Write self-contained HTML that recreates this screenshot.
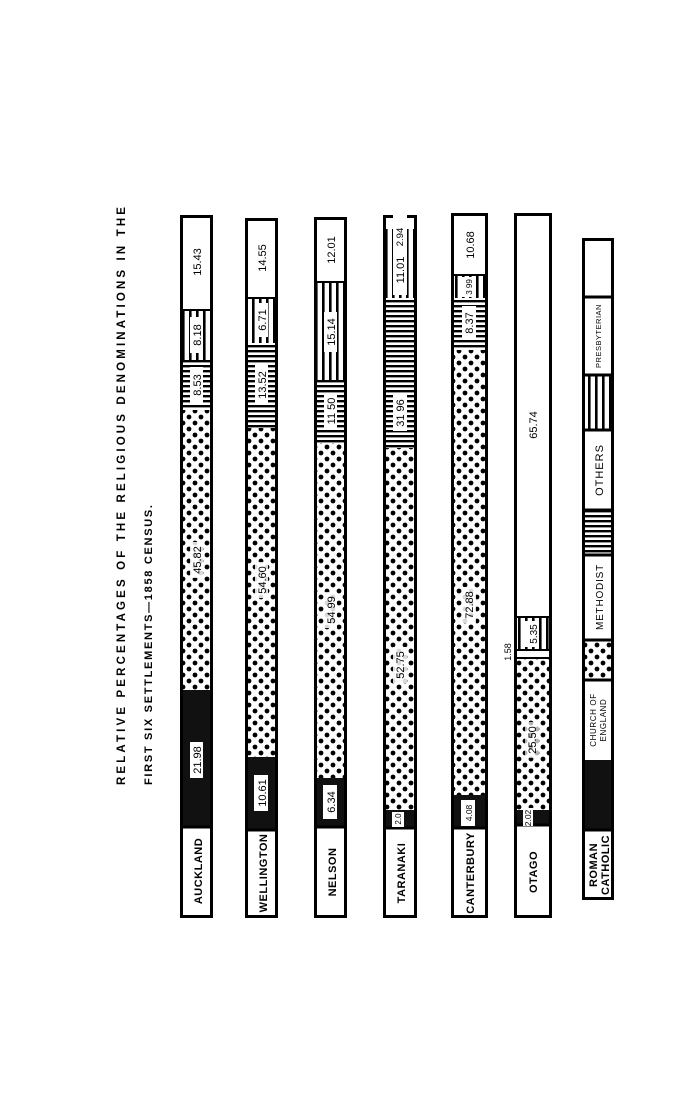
<!DOCTYPE html>
<html><head><meta charset="utf-8"><style>
html,body{margin:0;padding:0;background:#fff;}
svg{display:block;}
text{font-family:"Liberation Sans",sans-serif;fill:#000;}
</style></head><body>
<svg width="700" height="1110" viewBox="0 0 700 1110" xmlns="http://www.w3.org/2000/svg">
<defs>
<pattern id="dots" patternUnits="userSpaceOnUse" width="12" height="12">
<rect width="12" height="12" fill="#fff"/>
<circle cx="3" cy="3" r="2.4" fill="#000"/>
<circle cx="9" cy="9" r="2.4" fill="#000"/>
</pattern>
<pattern id="hl" patternUnits="userSpaceOnUse" width="5" height="5">
<rect width="5" height="5" fill="#fff"/>
<rect y="0" width="5" height="2.4" fill="#000"/>
</pattern>
<pattern id="vl" patternUnits="userSpaceOnUse" width="7" height="7">
<rect width="7" height="7" fill="#fff"/>
<rect x="0" width="2.6" height="7" fill="#000"/>
</pattern>
</defs>

<!-- Title -->
<text transform="translate(125,785) rotate(-90)" font-size="11.5" font-weight="bold" textLength="578" lengthAdjust="spacing">RELATIVE  PERCENTAGES  OF  THE  RELIGIOUS  DENOMINATIONS  IN  THE</text>
<text transform="translate(152,785) rotate(-90)" font-size="11" font-weight="bold" textLength="280" lengthAdjust="spacing">FIRST SIX SETTLEMENTS—1858 CENSUS.</text>

<!-- AUCKLAND -->
<g>
<rect x="180" y="215" width="33" height="95" fill="#fff"/>
<rect x="180" y="310" width="33" height="50" fill="url(#vl)"/>
<rect x="180" y="360" width="33" height="50" fill="url(#hl)"/>
<rect x="180" y="410" width="33" height="280" fill="url(#dots)"/>
<rect x="180" y="690" width="33" height="137" fill="#111"/>
<rect x="180" y="827" width="33" height="91" fill="#fff"/>
<rect x="181.5" y="216.5" width="30" height="700" fill="none" stroke="#000" stroke-width="3"/>
<line x1="180" y1="310" x2="213" y2="310" stroke="#000" stroke-width="2"/>
<line x1="180" y1="827" x2="213" y2="827" stroke="#000" stroke-width="3"/>
<rect x="190" y="317" width="13" height="36" fill="#fff"/>
<rect x="190" y="367" width="13" height="36" fill="#fff"/>
<rect x="190" y="542" width="13" height="36" fill="#fff" opacity="0.85"/>
<rect x="190" y="742" width="13" height="36" fill="#fff"/>
<text transform="translate(201,262) rotate(-90)" font-size="11" text-anchor="middle">15.43</text>
<text transform="translate(201,335) rotate(-90)" font-size="11" text-anchor="middle">8.18</text>
<text transform="translate(201,385) rotate(-90)" font-size="11" text-anchor="middle">8.53</text>
<text transform="translate(201,560) rotate(-90)" font-size="11" text-anchor="middle">45.82</text>
<text transform="translate(201,760) rotate(-90)" font-size="11" text-anchor="middle">21.98</text>
<text transform="translate(202,871) rotate(-90)" font-size="11" font-weight="bold" text-anchor="middle" letter-spacing="0.5">AUCKLAND</text>
</g>

<!-- WELLINGTON -->
<g>
<rect x="245" y="218" width="33" height="80" fill="#fff"/>
<rect x="245" y="298" width="33" height="45" fill="url(#vl)"/>
<rect x="245" y="343" width="33" height="85" fill="url(#hl)"/>
<rect x="245" y="428" width="33" height="329" fill="url(#dots)"/>
<rect x="245" y="757" width="33" height="73" fill="#111"/>
<rect x="245" y="830" width="33" height="88" fill="#fff"/>
<rect x="246.5" y="219.5" width="30" height="697" fill="none" stroke="#000" stroke-width="3"/>
<line x1="245" y1="298" x2="278" y2="298" stroke="#000" stroke-width="2"/>
<line x1="245" y1="830" x2="278" y2="830" stroke="#000" stroke-width="3"/>
<rect x="255" y="303" width="13" height="34" fill="#fff"/>
<rect x="255" y="365" width="13" height="40" fill="#fff"/>
<rect x="255" y="562" width="13" height="36" fill="#fff" opacity="0.85"/>
<rect x="254" y="775" width="14" height="36" fill="#fff"/>
<text transform="translate(266,258) rotate(-90)" font-size="11" text-anchor="middle">14.55</text>
<text transform="translate(266,320) rotate(-90)" font-size="11" text-anchor="middle">6.71</text>
<text transform="translate(266,385) rotate(-90)" font-size="11" text-anchor="middle">13.52</text>
<text transform="translate(266,580) rotate(-90)" font-size="11" text-anchor="middle">54.60</text>
<text transform="translate(266,793) rotate(-90)" font-size="11" text-anchor="middle">10.61</text>
<text transform="translate(267,873) rotate(-90)" font-size="11" font-weight="bold" text-anchor="middle" letter-spacing="0.5">WELLINGTON</text>
</g>

<!-- NELSON -->
<g>
<rect x="314" y="217" width="33" height="65" fill="#fff"/>
<rect x="314" y="282" width="33" height="98" fill="url(#vl)"/>
<rect x="314" y="380" width="33" height="63" fill="url(#hl)"/>
<rect x="314" y="443" width="33" height="335" fill="url(#dots)"/>
<rect x="314" y="778" width="33" height="49" fill="#111"/>
<rect x="314" y="827" width="33" height="91" fill="#fff"/>
<rect x="315.5" y="218.5" width="30" height="698" fill="none" stroke="#000" stroke-width="3"/>
<line x1="314" y1="282" x2="347" y2="282" stroke="#000" stroke-width="2"/>
<line x1="314" y1="827" x2="347" y2="827" stroke="#000" stroke-width="3"/>
<rect x="324" y="312" width="13" height="40" fill="#fff"/>
<rect x="324" y="393" width="13" height="36" fill="#fff"/>
<rect x="324" y="592" width="13" height="36" fill="#fff" opacity="0.85"/>
<rect x="323" y="785" width="14" height="34" fill="#fff"/>
<text transform="translate(335,250) rotate(-90)" font-size="11" text-anchor="middle">12.01</text>
<text transform="translate(335,332) rotate(-90)" font-size="11" text-anchor="middle">15.14</text>
<text transform="translate(335,411) rotate(-90)" font-size="11" text-anchor="middle">11 50</text>
<text transform="translate(335,610) rotate(-90)" font-size="11" text-anchor="middle">54 99</text>
<text transform="translate(335,802) rotate(-90)" font-size="11" text-anchor="middle">6.34</text>
<text transform="translate(336,872) rotate(-90)" font-size="11" font-weight="bold" text-anchor="middle" letter-spacing="0.5">NELSON</text>
</g>

<!-- TARANAKI -->
<g>
<rect x="383" y="215" width="34" height="14" fill="#fff"/>
<rect x="383" y="229" width="34" height="69" fill="url(#vl)"/>
<rect x="383" y="298" width="34" height="150" fill="url(#hl)"/>
<rect x="383" y="448" width="34" height="362" fill="url(#dots)"/>
<rect x="383" y="810" width="34" height="18" fill="#111"/>
<rect x="383" y="828" width="34" height="90" fill="#fff"/>
<rect x="384.5" y="216.5" width="31" height="700" fill="none" stroke="#000" stroke-width="3"/>
<line x1="383" y1="828" x2="417" y2="828" stroke="#000" stroke-width="3"/>
<rect x="393" y="215" width="14" height="80" fill="#fff"/>
<rect x="393" y="395" width="14" height="36" fill="#fff"/>
<rect x="393" y="647" width="14" height="36" fill="#fff" opacity="0.85"/>
<rect x="392" y="812" width="12" height="15" fill="#fff"/>
<text transform="translate(403,237) rotate(-90)" font-size="9.5" text-anchor="middle">2.94</text>
<text transform="translate(404,270) rotate(-90)" font-size="11" text-anchor="middle">11.01</text>
<text transform="translate(404,413) rotate(-90)" font-size="11" text-anchor="middle">31 96</text>
<text transform="translate(404,665) rotate(-90)" font-size="11" text-anchor="middle">52.75</text>
<text transform="translate(401,819) rotate(-90)" font-size="8" text-anchor="middle">2.0</text>
<text transform="translate(405,873) rotate(-90)" font-size="11" font-weight="bold" text-anchor="middle" letter-spacing="0.5">TARANAKI</text>
</g>

<!-- CANTERBURY -->
<g>
<rect x="451" y="213" width="37" height="62" fill="#fff"/>
<rect x="451" y="275" width="37" height="23" fill="url(#vl)"/>
<rect x="451" y="298" width="37" height="52" fill="url(#hl)"/>
<rect x="451" y="350" width="37" height="445" fill="url(#dots)"/>
<rect x="451" y="795" width="37" height="33" fill="#111"/>
<rect x="451" y="828" width="37" height="90" fill="#fff"/>
<rect x="452.5" y="214.5" width="34" height="702" fill="none" stroke="#000" stroke-width="3"/>
<line x1="451" y1="275" x2="488" y2="275" stroke="#000" stroke-width="2"/>
<line x1="451" y1="828" x2="488" y2="828" stroke="#000" stroke-width="3"/>
<rect x="462" y="277" width="14" height="20" fill="#fff"/>
<rect x="462" y="306" width="14" height="34" fill="#fff"/>
<rect x="462" y="587" width="14" height="36" fill="#fff" opacity="0.85"/>
<rect x="461" y="800" width="14" height="26" fill="#fff"/>
<text transform="translate(474,245) rotate(-90)" font-size="11" text-anchor="middle">10.68</text>
<text transform="translate(472,287) rotate(-90)" font-size="8" text-anchor="middle">3 99</text>
<text transform="translate(473,323) rotate(-90)" font-size="11" text-anchor="middle">8.37</text>
<text transform="translate(473,605) rotate(-90)" font-size="11" text-anchor="middle">72.88</text>
<text transform="translate(472,813) rotate(-90)" font-size="8.5" text-anchor="middle">4.08</text>
<text transform="translate(474,873) rotate(-90)" font-size="11" font-weight="bold" text-anchor="middle" letter-spacing="0.5">CANTERBURY</text>
</g>

<!-- OTAGO -->
<g>
<rect x="514" y="213" width="38" height="404" fill="#fff"/>
<rect x="514" y="617" width="38" height="33" fill="url(#vl)"/>
<rect x="514" y="650" width="38" height="8" fill="#fff"/>
<rect x="514" y="658" width="38" height="152" fill="url(#dots)"/>
<rect x="514" y="810" width="38" height="15" fill="#111"/>
<rect x="514" y="825" width="38" height="93" fill="#fff"/>
<rect x="515.5" y="214.5" width="35" height="702" fill="none" stroke="#000" stroke-width="3"/>
<line x1="514" y1="617" x2="552" y2="617" stroke="#000" stroke-width="2"/>
<line x1="514" y1="650" x2="552" y2="650" stroke="#000" stroke-width="2"/>
<line x1="514" y1="658" x2="552" y2="658" stroke="#000" stroke-width="2"/>
<line x1="514" y1="825" x2="552" y2="825" stroke="#000" stroke-width="3"/>
<rect x="525" y="621" width="14" height="26" fill="#fff"/>
<rect x="525" y="722" width="14" height="36" fill="#fff" opacity="0.7"/>
<rect x="523" y="808" width="10" height="18" fill="#fff"/>
<text transform="translate(537,425) rotate(-90)" font-size="11" text-anchor="middle">65.74</text>
<text transform="translate(537,634) rotate(-90)" font-size="10" text-anchor="middle">5.35</text>
<text transform="translate(511,652) rotate(-90)" font-size="9" text-anchor="middle">1.58</text>
<text transform="translate(536,740) rotate(-90)" font-size="11" text-anchor="middle">25.50</text>
<text transform="translate(531,818) rotate(-90)" font-size="8.5" text-anchor="middle">2.02</text>
<text transform="translate(537,872) rotate(-90)" font-size="11" font-weight="bold" text-anchor="middle" letter-spacing="0.5">OTAGO</text>
</g>

<!-- LEGEND -->
<g>
<rect x="582" y="238" width="32" height="662" fill="#fff"/>
<rect x="582" y="375" width="32" height="55" fill="url(#vl)"/>
<rect x="582" y="510" width="32" height="45" fill="url(#hl)"/>
<rect x="582" y="640" width="32" height="40" fill="url(#dots)"/>
<rect x="582" y="760" width="32" height="70" fill="#111"/>
<rect x="583.5" y="239.5" width="29" height="659" fill="none" stroke="#000" stroke-width="3"/>
<line x1="582" y1="297" x2="614" y2="297" stroke="#000" stroke-width="3"/>
<line x1="582" y1="375" x2="614" y2="375" stroke="#000" stroke-width="3"/>
<line x1="582" y1="430" x2="614" y2="430" stroke="#000" stroke-width="3"/>
<line x1="582" y1="510" x2="614" y2="510" stroke="#000" stroke-width="3"/>
<line x1="582" y1="555" x2="614" y2="555" stroke="#000" stroke-width="3"/>
<line x1="582" y1="640" x2="614" y2="640" stroke="#000" stroke-width="3"/>
<line x1="582" y1="680" x2="614" y2="680" stroke="#000" stroke-width="3"/>
<line x1="582" y1="830" x2="614" y2="830" stroke="#000" stroke-width="3"/>
<text transform="translate(601,336) rotate(-90)" font-size="7.5" text-anchor="middle" letter-spacing="0.5">PRESBYTERIAN</text>
<text transform="translate(603,470) rotate(-90)" font-size="11" text-anchor="middle" letter-spacing="1">OTHERS</text>
<text transform="translate(603,597) rotate(-90)" font-size="10" text-anchor="middle" letter-spacing="0.8">METHODIST</text>
<text transform="translate(596,720) rotate(-90)" font-size="8" text-anchor="middle" letter-spacing="0.6">CHURCH OF</text>
<text transform="translate(606,720) rotate(-90)" font-size="8" text-anchor="middle" letter-spacing="0.6">ENGLAND</text>
<text transform="translate(597,865) rotate(-90)" font-size="11" font-weight="bold" text-anchor="middle" letter-spacing="0.5">ROMAN</text>
<text transform="translate(609,865) rotate(-90)" font-size="11" font-weight="bold" text-anchor="middle" letter-spacing="0.5">CATHOLIC</text>
</g>
</svg>
</body></html>
